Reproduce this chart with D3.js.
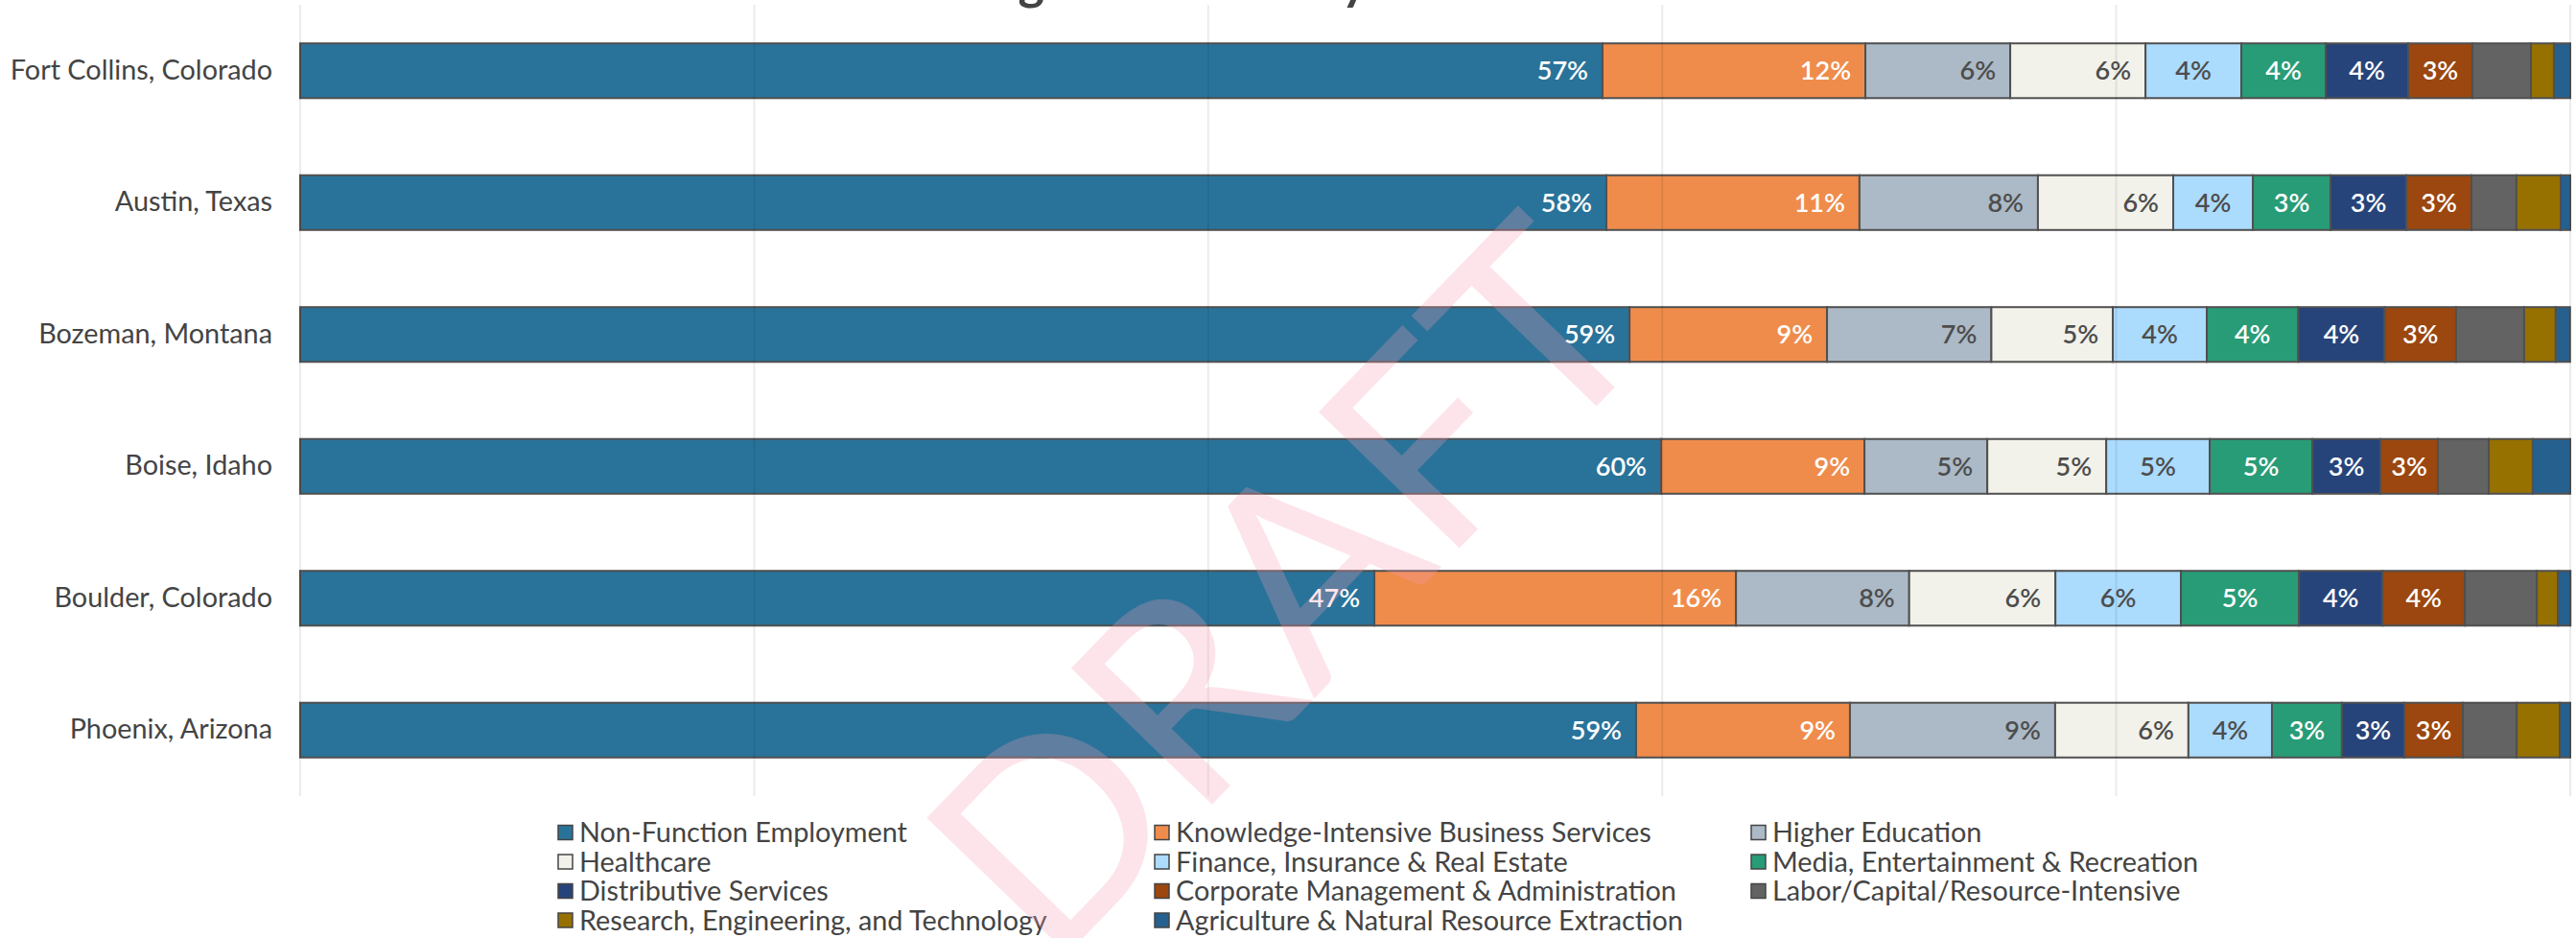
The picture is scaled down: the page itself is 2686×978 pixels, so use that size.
<!DOCTYPE html>
<html>
<head>
<meta charset="utf-8">
<script src="https://cdn.jsdelivr.net/npm/d3@7"></script>
<style>
  body { margin: 0; background: #fff; }
  text { font-family: Lato, "Open Sans", sans-serif; }
</style>
</head>
<body>
<svg id="chart"></svg>
<script>
const cities = ["Fort Collins, Colorado", "Austin, Texas", "Bozeman, Montana", "Boise, Idaho", "Boulder, Colorado", "Phoenix, Arizona"];

const seriesNames = [
    "Non-Function Employment", "Knowledge-Intensive Business Services", "Higher Education",
    "Healthcare", "Finance, Insurance & Real Estate", "Media, Entertainment & Recreation",
    "Distributive Services", "Corporate Management & Administration", "Labor/Capital/Resource-Intensive",
    "Research, Engineering, and Technology", "Agriculture & Natural Resource Extraction"
];

// share of employment (%), one value per city, same order as cities
const nonFunction  = [57.37, 57.54, 58.56, 59.95, 47.32, 58.85];
const knowledge    = [11.58, 11.15, 8.70, 8.96, 15.93, 9.42];
const higherEd     = [6.38, 7.86, 7.24, 5.41, 7.63, 9.04];
const healthcare   = [5.96, 5.96, 5.35, 5.24, 6.44, 5.87];
const finance      = [4.22, 3.51, 4.14, 4.56, 5.53, 3.68];
const media        = [3.72, 3.42, 4.03, 4.52, 5.20, 3.08];
const distributive = [3.63, 3.34, 3.80, 3.00, 3.68, 2.75];
const corporate    = [2.83, 2.87, 3.15, 2.53, 3.63, 2.58];
const labor        = [2.58, 1.98, 3.00, 2.24, 3.17, 2.37];
const research     = [1.01, 1.95, 1.39, 1.94, 0.93, 1.90];
const agriculture  = [0.72, 0.42, 0.63, 1.65, 0.55, 0.46];

const seriesValues = [nonFunction, knowledge, higherEd, healthcare, finance, media,
    distributive, corporate, labor, research, agriculture];

const gridTicks = [0, 20, 40, 60, 80, 100];

const colors = ["#29739a", "#ef8c4b", "#acb9c6", "#f2f2ea", "#abdbfd", "#289c77",
    "#27447a", "#9b470f", "#636363", "#967100", "#26608f"];
const labelColors = ["#fff", "#fff", "#4d4d4d", "#4d4d4d", "#4d4d4d", "#fff", "#fff", "#fff"];

const W = 2686, H = 978;
const margin = { top: 5, right: 6, bottom: 148, left: 313 };

const rows = cities.map((c, i) => {
    const r = { city: c };
    seriesNames.forEach((s, j) => { r[s] = seriesValues[j][i]; });
    return r;
});

const stacked = d3.stack().keys(seriesNames)(rows);

const svg = d3.select("#chart").attr("width", W).attr("height", H);

const x = d3.scaleLinear().domain([0, 100]).range([margin.left, W - margin.right]);
const y = d3.scaleBand().domain(cities)
    .range([margin.top, H - margin.bottom])
    .paddingInner(0.585)
    .paddingOuter(0.2925);

const color = d3.scaleOrdinal().domain(seriesNames).range(colors);

// title (sits mostly above the visible area)
svg.append("text")
    .attr("x", 1426)
    .attr("y", -1)
    .attr("text-anchor", "end")
    .attr("font-size", 52)
    .attr("font-weight", "bold")
    .attr("fill", "#444")
    .text("Structure of the Regional Economy");

// bars
const layer = svg.append("g").selectAll("g")
    .data(stacked)
    .join("g")
    .attr("fill", d => color(d.key));

layer.selectAll("rect")
    .data(d => d)
    .join("rect")
    .attr("x", d => x(d[0]))
    .attr("y", d => y(d.data.city))
    .attr("width", d => x(d[1]) - x(d[0]))
    .attr("height", y.bandwidth())
    .attr("stroke", "#505050")
    .attr("stroke-width", 2);

// grid lines over the bars
svg.append("g").selectAll("line")
    .data(gridTicks)
    .join("line")
    .attr("x1", d => x(d)).attr("x2", d => x(d))
    .attr("y1", margin.top).attr("y2", H - margin.bottom)
    .attr("stroke", "#000")
    .attr("stroke-opacity", 0.08)
    .attr("stroke-width", 2);

// value labels for the first eight series
stacked.slice(0, 8).forEach((s, j) => {
    svg.append("g").selectAll("text")
        .data(s)
        .join("text")
        .attr("x", d => j < 4 ? x(d[1]) - 15 : (x(d[0]) + x(d[1])) / 2)
        .attr("y", d => y(d.data.city) + y.bandwidth() / 2)
        .attr("dy", "0.36em")
        .attr("text-anchor", j < 4 ? "end" : "middle")
        .attr("font-size", 27)
        .attr("font-weight", 600)
        .attr("fill", labelColors[j])
        .text(d => Math.round(d[1] - d[0]) + "%");
});

// city axis
const yAxis = svg.append("g")
    .attr("transform", "translate(" + margin.left + ",0)")
    .call(d3.axisLeft(y).tickSize(0).tickPadding(29));
yAxis.select(".domain").remove();
yAxis.selectAll("text")
    .attr("font-size", 28.8)
    .attr("font-family", "Lato, sans-serif")
    .attr("fill", "#444");

// legend, three columns
const legendX = [582, 1204, 1826];
const legendY0 = 868, legendStep = 30.5;
const legend = svg.append("g").selectAll("g")
    .data(seriesNames)
    .join("g")
    .attr("transform", (d, i) => "translate(" + legendX[i % 3] + "," + (legendY0 + Math.floor(i / 3) * legendStep) + ")");

legend.append("rect")
    .attr("x", 0).attr("y", -7.5)
    .attr("width", 15).attr("height", 15)
    .attr("fill", d => color(d))
    .attr("stroke", "#444")
    .attr("stroke-width", 1.5);

legend.append("text")
    .attr("x", 22)
    .attr("dy", "0.36em")
    .attr("font-size", 28.8)
    .attr("fill", "#444")
    .text(d => d);

// watermark
svg.append("text")
    .attr("transform", "translate(1340,612) rotate(-46)")
    .attr("text-anchor", "middle")
    .attr("dy", "0.36em")
    .attr("font-size", 285)
    .attr("fill", "#f89bb2")
    .attr("fill-opacity", 0.27)
    .text("DRAFT");
</script>
</body>
</html>
